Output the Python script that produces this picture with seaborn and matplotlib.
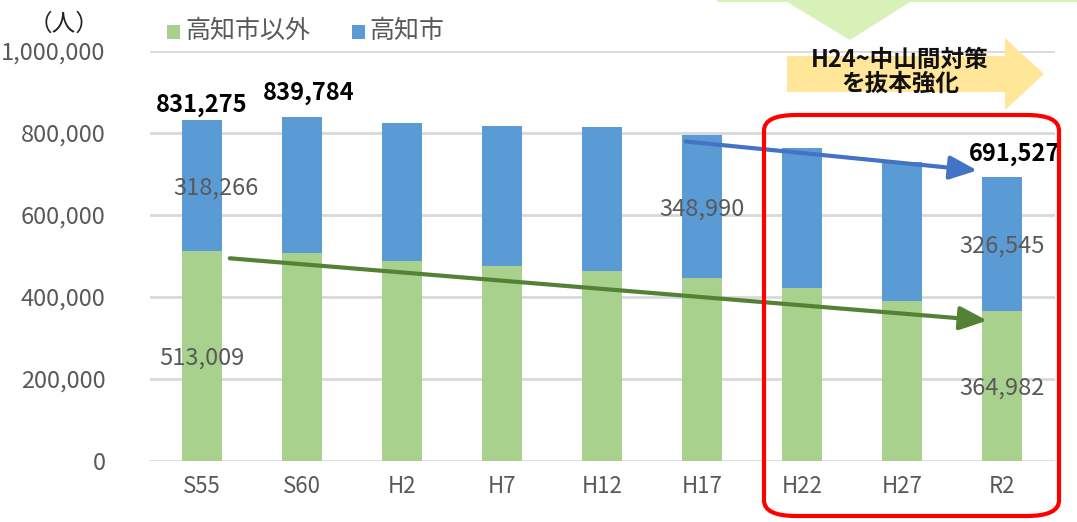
import numpy as np
import pandas as pd
import matplotlib
matplotlib.use("Agg")
import matplotlib.pyplot as plt
import seaborn as sns
from matplotlib.patches import FancyBboxPatch, Polygon

# ==========================
# Data
# ==========================

years = ["S55", "S60", "H2", "H7", "H12", "H17", "H22", "H27", "R2"]
kochi_city = [318266, 332000, 337000, 341000, 350000, 348990, 343393, 337190, 326545]
outside_city = [513009, 507784, 488034, 475704, 463949, 447302, 421063, 391086, 364982]
totals = [a + b for a, b in zip(kochi_city, outside_city)]

df = pd.DataFrame({
    "year": years,
    "outside": outside_city,
    "city": kochi_city,
    "total": totals,
})

green = "#A9D18E"
blue = "#5B9BD5"
grey = "#595959"

# ==========================
# Style
# ==========================

sns.set_theme(style="white")
plt.rcParams["font.family"] = ["Noto Sans CJK JP", "DejaVu Sans"]

fig = plt.figure(figsize=(10.77, 5.22), dpi=100)
ax = fig.add_axes([150 / 1077, 61 / 522, 905 / 1077, 410 / 522])

# stacked bars: total (blue) drawn first, then the lower part (green) on top
sns.barplot(data=df, x="year", y="total", color=blue, width=0.4,
            saturation=1, ax=ax, zorder=3, linewidth=0, edgecolor="none")
sns.barplot(data=df, x="year", y="outside", color=green, width=0.4,
            saturation=1, ax=ax, zorder=3, linewidth=0, edgecolor="none")

ax.set_ylim(0, 1000000)
ax.set_xlim(-0.52, 8.53)
ax.set_yticks(np.arange(0, 1000001, 200000))
ax.yaxis.set_major_formatter(matplotlib.ticker.FuncFormatter(lambda v, p: f"{int(v):,}"))
ax.grid(axis="y", color="#D9D9D9", linewidth=2, zorder=0)
ax.set_axisbelow(True)
for s in ax.spines.values():
    s.set_visible(False)
ax.tick_params(axis="y", colors=grey, labelsize=17, length=0, pad=32)
ax.tick_params(axis="x", colors=grey, labelsize=16, length=0, pad=10)
ax.set_xlabel("")
ax.set_ylabel("")

# ==========================
# Value labels
# ==========================

ax.text(0, totals[0] + 8000, f"{totals[0]:,}", ha="center", va="bottom",
        fontsize=17, fontweight="bold", color="black", zorder=6)
ax.text(1.07, totals[1] + 28000, f"{totals[1]:,}", ha="center", va="bottom",
        fontsize=17, fontweight="bold", color="black", zorder=6)
ax.text(8.13, totals[8] + 28000, f"{totals[8]:,}", ha="center", va="bottom",
        fontsize=17, fontweight="bold", color="black", zorder=6,
        bbox=dict(facecolor="white", edgecolor="none", pad=1))

ax.text(0.14, 665000, f"{kochi_city[0]:,}", ha="center", va="center",
        fontsize=17, color=grey, zorder=6)
ax.text(0, 252000, f"{outside_city[0]:,}", ha="center", va="center",
        fontsize=17, color=grey, zorder=6)
ax.text(5, 615000, f"{kochi_city[5]:,}", ha="center", va="center",
        fontsize=17, color=grey, zorder=6)
ax.text(8, 525000, f"{kochi_city[8]:,}", ha="center", va="center",
        fontsize=17, color=grey, zorder=6)
ax.text(8, 178000, f"{outside_city[8]:,}", ha="center", va="center",
        fontsize=17, color=grey, zorder=6)

# ==========================
# Trend arrows
# ==========================

ax.annotate("", xy=(7.78, 708000), xytext=(4.81, 780000),
            arrowprops=dict(arrowstyle="-|>,head_length=1.4,head_width=0.6",
                            color="#4472C4", lw=3), zorder=7)
ax.annotate("", xy=(7.88, 342000), xytext=(0.25, 495000),
            arrowprops=dict(arrowstyle="-|>,head_length=1.4,head_width=0.6",
                            color="#548235", lw=3), zorder=7)

# ==========================
# Annotations in figure pixels
# ==========================

def px(x, y):
    return (x / 1077, 1 - y / 522)

# red rounded frame around H22-R2
x0, y0 = px(764, 516)
x1, y1 = px(1059, 115)
frame = FancyBboxPatch((x0, y0), x1 - x0, y1 - y0,
                       boxstyle="round,pad=0,rounding_size=0.03",
                       transform=fig.transFigure, facecolor="none",
                       edgecolor="#FF0000", linewidth=3, zorder=8)
fig.patches.append(frame)

# yellow block arrow
yellow_pts = [px(787, 56), px(1005, 56), px(1005, 38), px(1044, 74),
              px(1005, 110), px(1005, 92), px(787, 92)]
fig.patches.append(Polygon(yellow_pts, closed=True, transform=fig.transFigure,
                           facecolor="#FFE699", edgecolor="none", zorder=1))
fig.text(*px(900, 72), "H24~中山間対策\nを抜本強化", ha="center", va="center",
         fontsize=17, fontweight="bold", color="#111111", linespacing=1.0)

# light green chevron at top
green_pts = [px(717, -1), px(1077, -1), px(1077, 2), px(910, 2),
             px(850, 40), px(787, 2), px(717, 2)]
fig.patches.append(Polygon(green_pts, closed=True, transform=fig.transFigure,
                           facecolor="#D8F1B8", edgecolor="none", zorder=1))

# unit and legend
fig.text(*px(64, 24), "（人）", ha="center", va="center", fontsize=17, color="#222222")
fig.patches.append(FancyBboxPatch(px(167, 39), 13 / 1077, 14 / 522, boxstyle="square,pad=0",
                                  transform=fig.transFigure, facecolor=green, edgecolor="none"))
fig.text(*px(185, 31), "高知市以外", ha="left", va="center", fontsize=18, color=grey)
fig.patches.append(FancyBboxPatch(px(352, 39), 13 / 1077, 14 / 522, boxstyle="square,pad=0",
                                  transform=fig.transFigure, facecolor=blue, edgecolor="none"))
fig.text(*px(369, 31), "高知市", ha="left", va="center", fontsize=18, color=grey)

fig.savefig("out.png", dpi=100)
